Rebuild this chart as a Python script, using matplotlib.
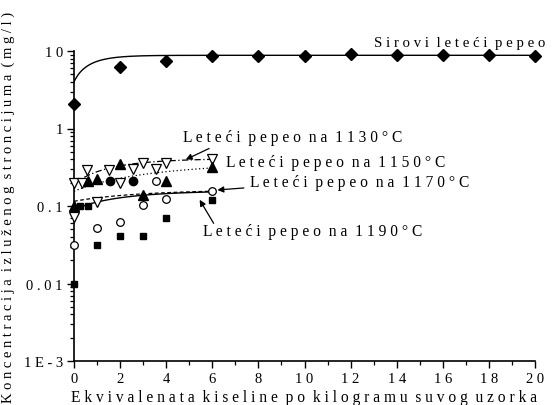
import numpy as np
import matplotlib
matplotlib.use("Agg")
import matplotlib.pyplot as plt
from matplotlib.ticker import FixedLocator, LogLocator, NullFormatter

plt.rcParams['font.family'] = ['Liberation Serif', 'DejaVu Serif']

# ---- data ----
x_raw = [0, 2, 4, 6, 8, 10, 12, 14, 16, 18, 20]
y_raw = [2.1, 6.2, 7.4, 8.7, 8.7, 8.7, 9.2, 8.8, 8.8, 8.8, 8.7]

x_1130 = [0, 0, 0.35, 0.55, 1.0, 1.5, 2.0, 2.55, 3.0, 3.55, 4.0, 6.0]
y_1130 = [0.2, 0.072, 0.2, 0.29, 0.112, 0.29, 0.2, 0.3, 0.36, 0.3, 0.36, 0.40]

x_1150 = [0, 0.6, 1.0, 2.0, 3.0, 4.0, 6.0]
y_1150 = [0.1, 0.21, 0.225, 0.35, 0.14, 0.21, 0.32]

x_1170 = [0, 1, 2, 3, 3.55, 4, 6]
y_1170 = [0.031, 0.052, 0.063, 0.103, 0.21, 0.123, 0.155]

x_1190 = [0, 0.25, 0.6, 1, 2, 3, 4, 6]
y_1190 = [0.01, 0.1, 0.1, 0.031, 0.041, 0.041, 0.071, 0.12]

x_mixed = [1.55, 2.55]
y_mixed = [0.21, 0.21]

# fitted-curve parameters: (start value, end value, rate)
fit_raw = (8.8, 4.8, 1.2)
fit_1130 = (0.19, 0.40, 0.5)
fit_1150 = (0.155, 0.31, 0.2)
fit_1170 = (0.115, 0.155, 0.3)
fit_1190 = (0.09, 0.152, 0.4)

x_ticks = [0, 2, 4, 6, 8, 10, 12, 14, 16, 18, 20]
y_ticks = [1e-3, 0.01, 0.1, 1, 10]
y_ticklabels = ["1E-3", "0.01", "0.1", "1", "10"]

label_raw = "Sirovi leteći pepeo"
label_1130 = "Leteći pepeo na 1130°C"
label_1150 = "Leteći pepeo na 1150°C"
label_1170 = "Leteći pepeo na 1170°C"
label_1190 = "Leteći pepeo na 1190°C"
xlabel = "Ekvivalenata kiseline po kilogramu suvog uzorka"
ylabel = "Koncentracija izluženog stroncijuma (mg/l)"


def sp(s):
    return "  ".join(" ".join(w) for w in s.split(" "))


def sat_curve(x, p):
    y0, y6, k = p
    return y0 + (y6 - y0) * (1 - np.exp(-k * x)) / (1 - np.exp(-6 * k))


W, H = 553, 406
fig = plt.figure(figsize=(W / 100, H / 100), dpi=100)
ax = fig.add_axes([74 / W, 1 - 362 / H, (535 - 74) / W, (362 - 52) / H])
ax.set_yscale('log')
ax.set_xlim(0, 20)
ax.set_ylim(1e-3, 10)

# curves
xr = np.linspace(0, 20, 300)
ax.plot(xr, fit_raw[0] - fit_raw[1] * np.exp(-fit_raw[2] * xr), color='black', lw=1.0)
xs = np.linspace(0, 6, 100)
ax.plot(xs, sat_curve(xs, fit_1130), color='black', lw=0.9, linestyle=(0, (5, 2, 1, 2)))
ax.plot(xs, sat_curve(xs, fit_1150), color='black', lw=0.9, linestyle=(0, (1, 2)))
ax.plot(xs, sat_curve(xs, fit_1170), color='black', lw=0.9, linestyle=(0, (3, 2)))
ax.plot(xs, sat_curve(xs, fit_1190), color='black', lw=1.0)

# markers
ax.plot(x_raw, y_raw, 'D', color='black', ms=6, clip_on=False, zorder=5)
ax.plot(x_1130, y_1130, 'v', mfc='white', mec='black', mew=0.9, ms=7, clip_on=False, zorder=5)
ax.plot(x_1150, y_1150, '^', color='black', ms=7, clip_on=False, zorder=5)
ax.plot(x_1170, y_1170, 'o', mfc='white', mec='black', mew=0.9, ms=5.5, clip_on=False, zorder=5)
ax.plot(x_1190, y_1190, 's', color='black', ms=5, clip_on=False, zorder=5)
ax.plot(x_mixed, y_mixed, 'o', color='black', ms=6, clip_on=False, zorder=5)

# spines & ticks
for s in ['top', 'right']:
    ax.spines[s].set_visible(False)
for s in ['left', 'bottom']:
    ax.spines[s].set_linewidth(1.2)

ax.xaxis.set_major_locator(FixedLocator(x_ticks))
ax.xaxis.set_minor_locator(FixedLocator(np.arange(1, 20, 2)))
ax.set_xticklabels([sp(str(t)) for t in x_ticks])
ax.set_yticks(y_ticks)
ax.set_yticklabels([sp(t) for t in y_ticklabels])
ax.yaxis.set_minor_locator(LogLocator(base=10, subs=np.arange(2, 10)))
ax.yaxis.set_minor_formatter(NullFormatter())
ax.tick_params(axis='both', which='major', direction='out', length=5, width=1.0,
               labelsize=10.5, pad=3)
ax.tick_params(axis='both', which='minor', direction='out', length=3, width=0.9)

ax.set_xlabel(sp(xlabel), fontsize=11.2, labelpad=3)
ax.set_ylabel(sp(ylabel), fontsize=10.5, labelpad=6)

# annotations
fs = 11.2
ax.text(13.0, 12.7, sp(label_raw), fontsize=10.6, ha='left', va='center')
ax.text(4.73, 0.776, sp(label_1130), fontsize=fs, ha='left', va='center')
ax.text(6.59, 0.373, sp(label_1150), fontsize=fs, ha='left', va='center')
ax.text(7.64, 0.202, sp(label_1170), fontsize=fs, ha='left', va='center')
ax.text(5.61, 0.048, sp(label_1190), fontsize=fs, ha='left', va='center')

ap = dict(arrowstyle='-|>', color='black', lw=0.9, mutation_scale=9)
ax.annotate('', xy=(4.74, 0.384), xytext=(5.97, 0.572), arrowprops=ap)
ax.annotate('', xy=(6.1, 0.16), xytext=(7.49, 0.172), arrowprops=ap)
ax.annotate('', xy=(5.39, 0.129), xytext=(6.12, 0.0557), arrowprops=ap)

fig.savefig('out.png', dpi=100)
